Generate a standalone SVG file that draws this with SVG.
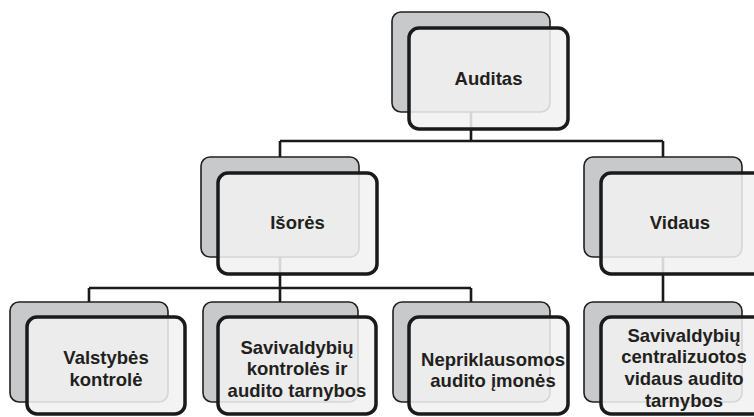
<svg xmlns="http://www.w3.org/2000/svg" width="754" height="417" viewBox="0 0 754 417">
<style>
.back{fill:#c8c9cb;stroke:#231f20;stroke-width:1.6}
.front{fill:#f1f1f1;fill-opacity:0.87;stroke:#1a1a1a;stroke-width:3.5}
.lbl{font-family:"Liberation Sans",Arial,sans-serif;font-weight:bold;font-size:18.5px;fill:#231f20;text-anchor:middle}
.con{fill:none;stroke:#1a1a1a;stroke-width:2.6}
</style>
<rect width="754" height="417" fill="#ffffff"/>
<g id="connectors">
<path class="con" d="M471,112 V141 M280,141 H663 M280,141 V157 M663,141 V157"/>
<path class="con" d="M280,257 V288 M89,288 H471 M89,288 V302 M280,288 V302 M471,288 V302"/>
<path class="con" d="M663,257 V302"/>
</g>
<g id="auditas">
<rect class="back" x="392" y="12" width="158" height="100" rx="9"/>
<rect class="front" x="409" y="28" width="159" height="101" rx="10"/>
<text class="lbl" x="488.5" y="85">Auditas</text>
</g>
<g id="isores">
<rect class="back" x="201" y="157" width="158" height="100" rx="9"/>
<rect class="front" x="218" y="173" width="159" height="101" rx="10"/>
<text class="lbl" x="297.5" y="229">Išorės</text>
</g>
<g id="vidaus">
<rect class="back" x="584" y="157" width="158" height="100" rx="9"/>
<rect class="front" x="601" y="173" width="166" height="101" rx="10"/>
<text class="lbl" x="680" y="229">Vidaus</text>
</g>
<g id="valstybes">
<rect class="back" x="10" y="302" width="158" height="100" rx="9"/>
<rect class="front" x="27" y="317" width="158" height="97" rx="10"/>
<text class="lbl" x="106" y="364">Valstybės</text>
<text class="lbl" x="106" y="386">kontrolė</text>
</g>
<g id="savivaldybiu-kontroles">
<rect class="back" x="203" y="302" width="155" height="100" rx="9"/>
<rect class="front" x="218" y="317" width="158" height="97" rx="10"/>
<text class="lbl" x="297" y="354">Savivaldybių</text>
<text class="lbl" x="297" y="375">kontrolės ir</text>
<text class="lbl" x="297" y="397">audito tarnybos</text>
</g>
<g id="nepriklausomos">
<rect class="back" x="393" y="302" width="157" height="100" rx="9"/>
<rect class="front" x="409" y="317" width="159" height="97" rx="10"/>
<text class="lbl" x="493" y="366">Nepriklausomos</text>
<text class="lbl" x="493" y="387">audito įmonės</text>
</g>
<g id="centralizuotos">
<rect class="back" x="584" y="302" width="158" height="100" rx="9"/>
<rect class="front" x="601" y="317" width="166" height="97" rx="10"/>
<text class="lbl" x="684" y="342">Savivaldybių</text>
<text class="lbl" x="684" y="363">centralizuotos</text>
<text class="lbl" x="684" y="385">vidaus audito</text>
<text class="lbl" x="684" y="407">tarnybos</text>
</g>
</svg>
